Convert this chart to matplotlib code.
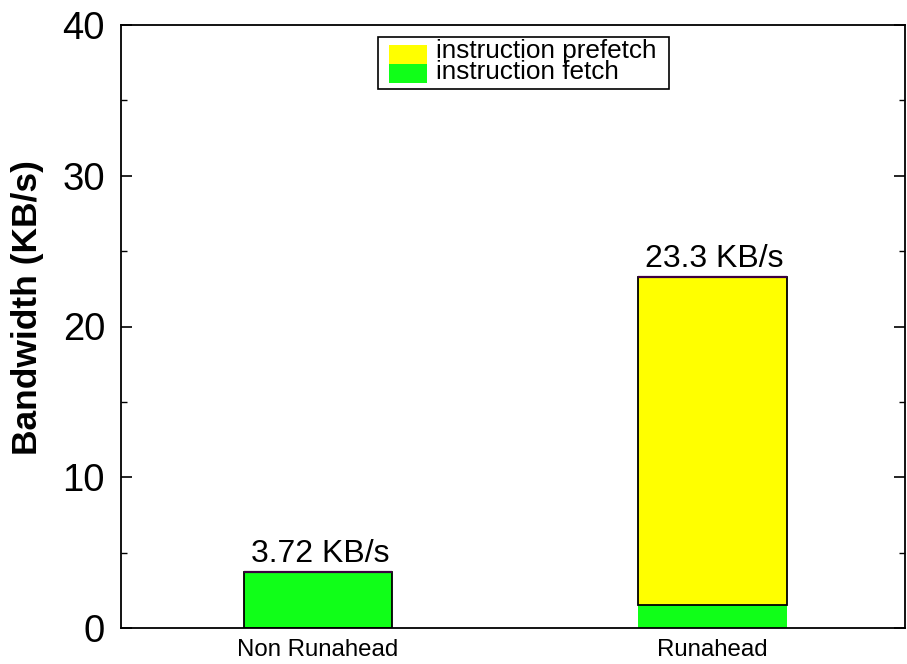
import matplotlib
matplotlib.use("Agg")
import matplotlib.pyplot as plt
from matplotlib.patches import Rectangle
from matplotlib.ticker import MultipleLocator

categories = ["Non Runahead", "Runahead"]
fetch = [3.72, 1.5]
prefetch = [0.0, 21.8]
totals = [3.72, 23.3]
bar_labels = ["3.72 KB/s", "23.3 KB/s"]
y_ticks = [0, 10, 20, 30, 40]
legend_labels = ["instruction prefetch", "instruction fetch"]

plt.rcParams['font.family'] = ['Liberation Sans', 'DejaVu Sans']

W, H = 907, 664
AX_L, AX_R, AX_T, AX_B = 121, 905.5, 25, 628
fig = plt.figure(figsize=(W/100, H/100), dpi=100)
ax = fig.add_axes([AX_L/W, 1-AX_B/H, (AX_R-AX_L)/W, (AX_B-AX_T)/H])

def axfrac(px, py):
    return (px-AX_L)/(AX_R-AX_L), (AX_B-py)/(AX_B-AX_T)

x = list(range(len(categories)))
w = 0.377
green = '#10ff18'
yellow = '#ffff00'
ax.bar(x, fetch, width=w, color=green, edgecolor='none', zorder=2)
ax.bar(x, prefetch, width=w, bottom=fetch, color=yellow, edgecolor='black', linewidth=1.3, zorder=2)
ax.bar(x[:1], totals[:1], width=w, fill=False, edgecolor='black', linewidth=1.3, zorder=3)
for xi, t in zip(x, totals):
    ax.hlines(t, xi - w/2, xi + w/2, color='#3c0040', linewidth=1.6, zorder=4)
for xi, t, lab in zip(x, totals, bar_labels):
    ax.text(xi + 0.005, t + 0.2, lab, ha='center', va='bottom', fontsize=23)

ax.set_xlim(-0.5, 1.49)
ax.set_ylim(0, 40)
ax.set_xticks(x)
ax.set_xticklabels(categories, fontsize=17.3)
ax.set_yticks(y_ticks)
ax.set_yticklabels([str(v) for v in y_ticks], fontsize=27.5)
ax.yaxis.set_minor_locator(MultipleLocator(5))
ax.tick_params(axis='y', which='major', direction='in', length=8, width=1.2, right=True, pad=11.5)
ax.tick_params(axis='y', which='minor', direction='in', length=4, width=1.0, right=True)
ax.tick_params(axis='x', length=0, pad=8)
for s in ax.spines.values():
    s.set_linewidth(1.3)

ax.set_ylabel("Bandwidth (KB/s)", fontsize=25.5, fontweight='bold', va='center')
ax.yaxis.set_label_coords(*axfrac(27, 308))

# legend drawn by hand (tightly stacked entries as in the reference)
fx0, fy0 = axfrac(378, 89)
fx1, fy1 = axfrac(669, 37)
ax.add_patch(Rectangle((fx0, fy0), fx1-fx0, fy1-fy0, transform=ax.transAxes,
                       facecolor='white', edgecolor='black', linewidth=1.2, zorder=5, clip_on=False))
swatches = [(yellow, 45, 64), (green, 64, 83)]
baselines = [58, 79]
for (col, ytop, ybot), lab, yb in zip(swatches, legend_labels, baselines):
    sx0, sy0 = axfrac(389, ybot)
    sx1, sy1 = axfrac(427, ytop)
    ax.add_patch(Rectangle((sx0, sy0), sx1-sx0, sy1-sy0, transform=ax.transAxes,
                           facecolor=col, edgecolor='none', zorder=6, clip_on=False))
    tx, ty = axfrac(436, yb)
    ax.text(tx, ty, lab, transform=ax.transAxes, ha='left', va='baseline',
            fontsize=18.8, zorder=7)

fig.savefig("out.png", dpi=100)
